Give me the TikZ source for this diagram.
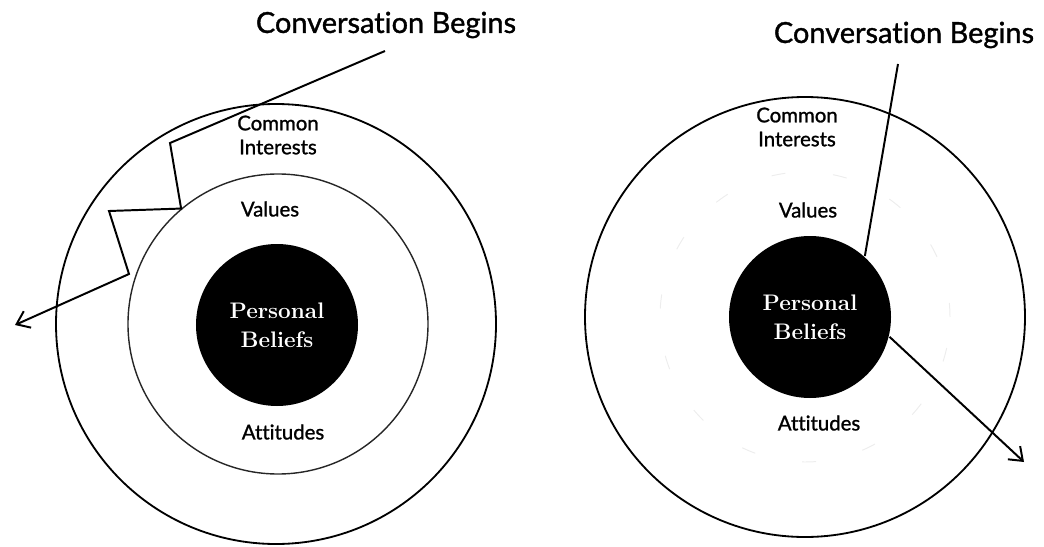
\documentclass[tikz,border=0pt]{standalone}
\usepackage{fontspec}
\newfontfamily\gillfont[Ligatures=NoCommon, FakeBold=1.2]{Lato}
\usetikzlibrary{arrows.meta,positioning}

\begin{document}
\begin{tikzpicture}
[x=0.25mm, y=-0.25mm, line width=1.4pt, >={Straight Barb[length=3mm,width=4.5mm]},
ring/.style={circle, draw, line width=1.3pt, inner sep=0pt, minimum size=110mm},
inner ring/.style={circle, draw=black!85, line width=1pt, inner sep=0pt, minimum size=75mm},
ghost ring/.style={circle, draw=black!7, line width=0.7pt, dash pattern=on 10pt off 34pt, inner sep=0pt, minimum size=72.5mm},
core/.style={circle, fill=black, text=white, inner sep=0pt, minimum size=40.5mm, align=center, font=\bfseries\fontsize{16}{20.5}\selectfont},
ringtext/.style={font=\gillfont\fontsize{14.5}{17}\selectfont, align=center},
heading/.style={font=\gillfont\fontsize{20.6}{24}\selectfont}]

\useasboundingbox (0,0) rectangle (1044,547);

% left: conversation zigzags through the rings
\node[ring] (outerL) at (276,324) {};
\node[inner ring] (innerL) at (278,324) {};
\node[core] (coreL) at (277,325) {Personal\\Beliefs};

\node[heading] (titleL) at (386,25) {Conversation Begins};
\node[ringtext] (commonL) at (278,135) {Common\\Interests};
\node[ringtext] (valuesL) at (270,209) {Values};
\node[ringtext] (attitudesL) at (283,432) {Attitudes};

\coordinate (startL) at (385,51);
\coordinate (bendL1) at (170,143);
\coordinate (bendL2) at (109,211);
\coordinate (bendL3) at (129,274);
\coordinate (tipL) at (15,325);
\draw[->] (startL) -- (bendL1) -- (innerL.130) -- (bendL2) -- (bendL3) -- (tipL);

% right: conversation goes straight to the core
\node[ring] (outerR) at (805,317) {};
\node[ghost ring] (innerR) at (805,317) {};
\node[core] (coreR) at (810,317) {Personal\\Beliefs};

\node[heading] (titleR) at (904,35) {Conversation Begins};
\node[ringtext] (commonR) at (797,127) {Common\\Interests};
\node[ringtext] (valuesR) at (808,210) {Values};
\node[ringtext] (attitudesR) at (819,423) {Attitudes};

\coordinate (startR) at (898,64);
\coordinate (tipR) at (1024,462);
\draw (startR) -- (coreR.48);
\draw[->] (coreR.-14) -- (tipR);

\end{tikzpicture}
\end{document}
